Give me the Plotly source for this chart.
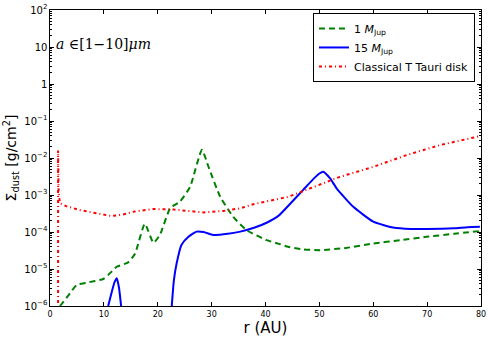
import plotly.graph_objects as go

# 1 M_Jup planet
r_1mj = [1.86, 3.7, 4.95, 6.8, 9.9, 10.8, 12.4, 14.5, 15.8, 17.6, 19.2, 20.4, 22.3, 24.1, 26.0,
         28.2, 29.4, 31.6, 34.0, 36.5, 40.2, 42.7, 44.2, 47.0, 50.1, 55.0, 60.0, 65.0, 69.9, 75.0, 80.0]
log_1mj = [-6.0, -5.66, -5.43, -5.37, -5.27, -5.16, -4.94, -4.82, -4.58, -3.78, -4.29, -4.08, -3.36, -3.18, -2.78,
           -1.78, -2.23, -3.05, -3.59, -3.95, -4.22, -4.33, -4.40, -4.47, -4.49, -4.43, -4.31, -4.22, -4.13, -4.05, -3.97]

# 15 M_Jup planet (two pieces, gaps below 1e-6)
r_15mj = [10.8, 11.5, 12.0, 12.4, 12.8, 13.2, None,
          22.6, 23.0, 23.5, 24.4, 25.7, 27.2, 28.5, 30.3, 33.0, 35.3, 38.0, 40.2, 42.5, 44.5, 47.0,
          49.0, 50.0, 50.7, 52.0, 53.2, 56.3, 60.0, 63.7, 67.0, 69.9, 74.9, 77.5, 79.8]
log_15mj = [-6.0, -5.6, -5.35, -5.25, -5.5, -6.0, None,
            -6.0, -5.3, -4.85, -4.35, -4.13, -3.99, -4.0, -4.08, -4.05, -3.99, -3.88, -3.75, -3.55, -3.25, -2.86,
            -2.55, -2.42, -2.37, -2.55, -2.82, -3.32, -3.72, -3.88, -3.92, -3.92, -3.90, -3.87, -3.86]

# classical T Tauri disk
r_ctt = [1.5, 1.5, 1.6, 1.86, 3.0, 5.6, 8.5, 11.4, 13.5, 15.5, 19.2, 22.9, 25.5, 28.5, 32.2, 35.3,
         37.7, 41.5, 44.2, 47.6, 53.8, 60.0, 66.2, 72.4, 79.8]
log_ctt = [-7.0, -1.8, -2.95, -3.22, -3.3, -3.41, -3.5, -3.57, -3.53, -3.45, -3.38, -3.39, -3.43, -3.47, -3.43, -3.36,
           -3.25, -3.14, -3.05, -2.86, -2.51, -2.24, -1.92, -1.65, -1.41]


def val(logs):
    return [None if v is None else 10 ** v for v in logs]


fig = go.Figure()
fig.add_trace(go.Scatter(x=r_1mj, y=val(log_1mj), mode="lines", name="1 <i>M</i><sub>Jup</sub>",
                         line=dict(color="green", width=2, dash="6px,4px", shape="spline", smoothing=0.5)))
fig.add_trace(go.Scatter(x=r_15mj, y=val(log_15mj), mode="lines", name="15 <i>M</i><sub>Jup</sub>",
                         line=dict(color="blue", width=2, shape="spline", smoothing=0.5)))
fig.add_trace(go.Scatter(x=r_ctt, y=val(log_ctt), mode="lines", name="Classical T Tauri disk",
                         line=dict(color="red", width=2, dash="3px,3px,1px,3px")))

axis_common = dict(showline=True, linecolor="black", linewidth=1, mirror="ticks", ticks="inside",
                   tickcolor="black", showgrid=False, zeroline=False, automargin=False,
                   tickfont=dict(family="DejaVu Sans", size=8, color="black"))

fig.update_xaxes(range=[0, 80], dtick=10, ticklen=4,
                 title=dict(text="r (AU)", font=dict(family="DejaVu Sans", size=15, color="black"), standoff=3),
                 **axis_common)
fig.update_yaxes(type="log", range=[-6, 2], dtick=1, ticklen=4, exponentformat="power",
                 minor=dict(ticks="inside", ticklen=2, tickcolor="black", dtick="D1"),
                 title=dict(text="Σ<sub>dust</sub> [g/cm<sup>2</sup>]",
                            font=dict(family="DejaVu Sans", size=14, color="black"), standoff=4),
                 **axis_common)

fig.add_annotation(x=0.01, y=0.885, xref="paper", yref="paper", xanchor="left", yanchor="middle",
                   text="<i>a</i> ∈[1−10]<i>μm</i>", showarrow=False,
                   font=dict(family="DejaVu Serif", size=14, color="black"))

fig.update_layout(
    width=491, height=342,
    margin=dict(l=50, r=10, t=10, b=36),
    plot_bgcolor="white", paper_bgcolor="white",
    legend=dict(x=0.986, y=0.99, xanchor="right", yanchor="top", bordercolor="black", borderwidth=1,
                bgcolor="white", font=dict(family="DejaVu Sans", size=11, color="black"),
                tracegroupgap=0, itemwidth=30),
    showlegend=True,
)

# drop the default page margin so the figure sits at the window's corner
fig.write_html("out.html", config={"displayModeBar": False},
               post_script="document.body.style.margin='0px';")
